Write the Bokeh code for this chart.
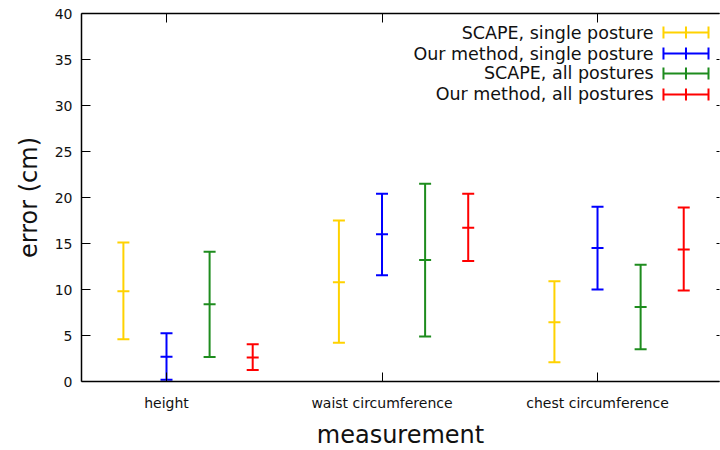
import math
from bokeh.plotting import figure
from bokeh.models import LinearAxis, FixedTicker, Range1d, ColumnDataSource, CustomLabelingPolicy
from bokeh.core.properties import value
from bokeh.embed import file_html
from bokeh.resources import INLINE

# ---- data ----
categories = ["height", "waist circumference", "chest circumference"]
series_names = ["SCAPE, single posture", "Our method, single posture",
                "SCAPE, all postures", "Our method, all postures"]
series_colors = ["#ffd200", "#0000ff", "#1e8c1e", "#ff0000"]
series_offsets = [-0.2, 0.0, 0.2, 0.4]

scape_single_mean = [9.8, 10.8, 6.45]
scape_single_low = [4.6, 4.2, 2.1]
scape_single_high = [15.1, 17.5, 10.9]

ours_single_mean = [2.7, 16.0, 14.5]
ours_single_low = [0.2, 11.55, 10.0]
ours_single_high = [5.25, 20.4, 19.0]

scape_all_mean = [8.4, 13.2, 8.1]
scape_all_low = [2.65, 4.9, 3.5]
scape_all_high = [14.1, 21.5, 12.7]

ours_all_mean = [2.6, 16.7, 14.35]
ours_all_low = [1.25, 13.1, 9.9]
ours_all_high = [4.05, 20.4, 18.9]

y_ticks = [0, 5, 10, 15, 20, 25, 30, 35, 40]

series = [
    (scape_single_mean, scape_single_low, scape_single_high),
    (ours_single_mean, ours_single_low, ours_single_high),
    (scape_all_mean, scape_all_low, scape_all_high),
    (ours_all_mean, ours_all_low, ours_all_high),
]

FONT = "DejaVu Sans"
cat_pos = [i + 1 for i in range(len(categories))]

p = figure(frame_width=638, frame_height=368, output_backend="svg",
           toolbar_location=None, x_axis_type=None, y_axis_type=None,
           x_range=Range1d(0.6056, 3.566), y_range=Range1d(0, 40),
           min_border_left=81, min_border_top=13, min_border_right=0,
           min_border_bottom=59)
p.outline_line_color = None
p.xgrid.visible = False
p.ygrid.visible = False
p.background_fill_color = "white"
p.border_fill_color = "white"

no_labels = CustomLabelingPolicy(code="return new Set()")

# left axis
yax = LinearAxis(ticker=FixedTicker(ticks=y_ticks), axis_label="error (cm)")
yax.axis_line_width = 1.5
yax.axis_line_color = "black"
yax.major_tick_in = 9
yax.major_tick_out = 0
yax.major_tick_line_color = "black"
yax.minor_tick_line_color = None
yax.major_label_text_font = FONT
yax.major_label_text_font_size = "14px"
yax.major_label_text_color = "#111111"
yax.major_label_standoff = 9
yax.axis_label_text_font = FONT
yax.axis_label_text_font_size = "24px"
yax.axis_label_text_font_style = "normal"
yax.axis_label_text_color = "#111111"
yax.axis_label_standoff = 9
p.add_layout(yax, "left")

# bottom axis
xax = LinearAxis(ticker=FixedTicker(ticks=cat_pos), axis_label="measurement")
xax.major_label_overrides = {c: n for c, n in zip(cat_pos, categories)}
xax.axis_line_width = 1.5
xax.axis_line_color = "black"
xax.major_tick_in = 9
xax.major_tick_out = 0
xax.major_tick_line_color = "black"
xax.minor_tick_line_color = None
xax.major_label_text_font = FONT
xax.major_label_text_font_size = "14px"
xax.major_label_text_color = "#111111"
xax.major_label_standoff = 13
xax.axis_label_text_font = FONT
xax.axis_label_text_font_size = "24px"
xax.axis_label_text_font_style = "normal"
xax.axis_label_text_color = "#111111"
xax.axis_label_standoff = 7
p.add_layout(xax, "below")

# top border with mirrored ticks
tax = LinearAxis(ticker=FixedTicker(ticks=cat_pos), major_label_policy=no_labels)
tax.axis_line_width = 1.5
tax.axis_line_color = "black"
tax.major_tick_in = 9
tax.major_tick_out = 0
tax.minor_tick_line_color = None
tax.major_label_standoff = 0
p.add_layout(tax, "above")

# right mirrored ticks (border cut off at window edge)
rax = LinearAxis(ticker=FixedTicker(ticks=y_ticks), major_label_policy=no_labels)
rax.axis_line_color = None
rax.major_tick_in = 3
rax.major_tick_out = 0
rax.minor_tick_line_color = None
rax.major_label_standoff = 0
p.add_layout(rax, "right")

# error bars
for (mean, low, high), color, off in zip(series, series_colors, series_offsets):
    xs = [c + off for c in cat_pos]
    src = ColumnDataSource(dict(x=xs, mean=mean, low=low, high=high))
    p.segment(x0="x", y0="low", x1="x", y1="high", source=src,
              line_color=color, line_width=2)
    for col in ("low", "high", "mean"):
        p.scatter(x="x", y=col, source=src, marker="dash", size=12,
                  line_color=color, line_width=2)

# manual legend (top right), positions in data units
leg_text_x = 3.26
leg_x0, leg_x1 = 3.306, 3.515
leg_rows_y = [37.93, 35.65, 33.48, 31.2]
for name, color, ly in zip(series_names, series_colors, leg_rows_y):
    p.text(x=[leg_text_x], y=[ly], text=[name], text_align="right",
           text_baseline="middle", text_font=value(FONT),
           text_font_size="17.5px", text_color="#111111")
    p.segment(x0=[leg_x0], y0=[ly], x1=[leg_x1], y1=[ly],
              line_color=color, line_width=2)
    p.scatter(x=[leg_x0, (leg_x0 + leg_x1) / 2, leg_x1], y=[ly, ly, ly],
              marker="dash", angle=math.pi / 2, size=12,
              line_color=color, line_width=2)

open("out.html", "w").write(file_html(p, INLINE))
